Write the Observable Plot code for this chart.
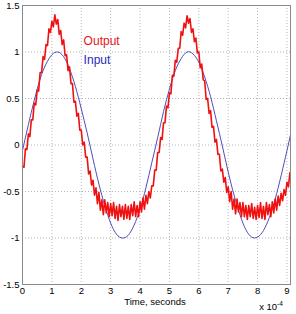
<!DOCTYPE html>
<html><head><meta charset="utf-8">
<script src="https://cdn.jsdelivr.net/npm/d3@7"></script>
<script src="https://cdn.jsdelivr.net/npm/@observablehq/plot@0.6"></script>
<style>body{margin:0;background:#fff} #chart svg{display:block}</style>
</head><body><div id="chart"></div>
<script>
// Input (blue sine) samples, time in units of 1e-4 s
const inputT = [0,0.2,0.4,0.6,0.8,1.0,1.2,1.4,1.6,1.8,2.0,2.2,2.4,2.6,2.8,3.0,3.2,3.4,3.6,3.8,4.0,4.2,4.4,4.6,4.8,5.0,5.2,5.4,5.6,5.8,6.0,6.2,6.4,6.6,6.8,7.0,7.2,7.4,7.6,7.8,8.0,8.2,8.4,8.6,8.8,9.0,9.12];
const inputV = [-0.06,0.22,0.48,0.71,0.87,0.97,1.0,0.95,0.82,0.63,0.39,0.13,-0.15,-0.42,-0.65,-0.84,-0.96,-1.0,-0.97,-0.86,-0.69,-0.46,-0.19,0.08,0.36,0.6,0.8,0.93,1.0,0.98,0.89,0.73,0.52,0.26,-0.01,-0.29,-0.54,-0.75,-0.91,-0.99,-0.99,-0.92,-0.78,-0.58,-0.33,-0.06,0.11];

// Output (red, noisy) samples every 0.05 time units from 0 to 9.10
const outputStep = 0.05;
const outputV = [
-0.23,-0.24,-0.04,-0.05,0.12,0.09,0.27,0.27,0.45,0.43,
0.59,0.58,0.78,0.78,0.95,0.92,1.08,1.07,1.25,1.21,
1.33,1.27,1.40,1.30,1.35,1.19,1.23,1.08,1.13,0.96,
0.97,0.80,0.84,0.66,0.66,0.46,0.47,0.31,0.34,0.16,
0.16,0.00,0.03,-0.13,-0.13,-0.31,-0.28,-0.43,-0.38,-0.54,
-0.46,-0.63,-0.51,-0.70,-0.59,-0.75,-0.59,-0.73,-0.62,-0.77,
-0.63,-0.76,-0.62,-0.79,-0.66,-0.81,-0.64,-0.77,-0.66,-0.80,
-0.64,-0.79,-0.66,-0.80,-0.64,-0.76,-0.61,-0.77,-0.65,-0.77,
-0.61,-0.72,-0.57,-0.69,-0.54,-0.63,-0.50,-0.57,-0.44,-0.44,
-0.27,-0.27,-0.08,-0.08,0.08,0.06,0.24,0.24,0.42,0.40,
0.56,0.55,0.75,0.74,0.91,0.89,1.04,1.04,1.22,1.18,
1.31,1.26,1.39,1.31,1.36,1.21,1.25,1.11,1.15,0.99,
1.00,0.83,0.87,0.70,0.69,0.49,0.50,0.34,0.37,0.19,
0.20,0.03,0.06,-0.10,-0.10,-0.28,-0.26,-0.40,-0.35,-0.51,
-0.45,-0.61,-0.50,-0.69,-0.58,-0.74,-0.58,-0.72,-0.62,-0.77,
-0.62,-0.77,-0.65,-0.80,-0.65,-0.77,-0.63,-0.79,-0.67,-0.80,
-0.65,-0.78,-0.62,-0.79,-0.66,-0.80,-0.62,-0.75,-0.64,-0.77,
-0.61,-0.73,-0.58,-0.70,-0.55,-0.65,-0.52,-0.60,-0.48,-0.54,
-0.40,-0.45,-0.30
];

const xTicks = [0,1,2,3,4,5,6,7,8,9];
const yTicks = [-1.5,-1,-0.5,0,0.5,1,1.5];
const xDomain = [0, 9.12];
const yDomain = [-1.5, 1.5];
const legendNames = ["Output", "Input"];
const legendColors = ["#e8141b", "#2b2bb8"];
const legendT = [2.08, 2.08];
const legendY = [1.12, 0.91];
const xLabel = "Time, seconds";

const inputData = inputT.map((t, i) => ({t, v: inputV[i]}));
const outputData = outputV.map((v, i) => ({t: i * outputStep, v}));
const legendData = legendNames.map((name, i) => ({name, color: legendColors[i], t: legendT[i], v: legendY[i]}));

const W = 296, H = 314;
const chart = Plot.plot({
  width: W, height: H,
  marginLeft: 22, marginRight: 6, marginTop: 5, marginBottom: 30,
  style: {fontFamily: "'Liberation Sans', Arial, sans-serif", fontSize: "9.5px", color: "#000", background: "#fff"},
  x: {domain: xDomain, label: null},
  y: {domain: yDomain, label: null},
  marks: [
    Plot.gridX(xTicks, {stroke: "#b5b5b5", strokeOpacity: 1, strokeDasharray: "1,2"}),
    Plot.gridY(yTicks, {stroke: "#b5b5b5", strokeOpacity: 1, strokeDasharray: "1,2"}),
    Plot.line(inputData, {x: "t", y: "v", stroke: "#3a3ab0", strokeWidth: 0.9, curve: "natural"}),
    Plot.line(outputData, {x: "t", y: "v", stroke: "#f01010", strokeWidth: 1.6}),
    Plot.frame({stroke: "#8a8a8a", strokeWidth: 1}),
    Plot.axisX(xTicks, {tickSize: 0, tickPadding: 3, tickFormat: d => String(d), label: null}),
    Plot.axisY(yTicks, {tickSize: 0, tickPadding: 3, tickFormat: d => String(d), label: null}),
    Plot.text(legendData, {x: "t", y: "v", text: "name", fill: "color", textAnchor: "start", fontSize: 12})
  ]
});
document.getElementById("chart").appendChild(chart);

const svg = d3.select(chart);
svg.append("text").attr("x", 155).attr("y", 305).attr("text-anchor", "middle")
  .attr("font-size", "9.5px").attr("fill", "#000").text(xLabel);
const mult = svg.append("text").attr("x", 271).attr("y", 310).attr("font-size", "9.5px").attr("fill", "#000");
mult.append("tspan").text("x 10");
mult.append("tspan").attr("dy", -4).attr("font-size", "6.5px").text("-4");
</script>
</body></html>
